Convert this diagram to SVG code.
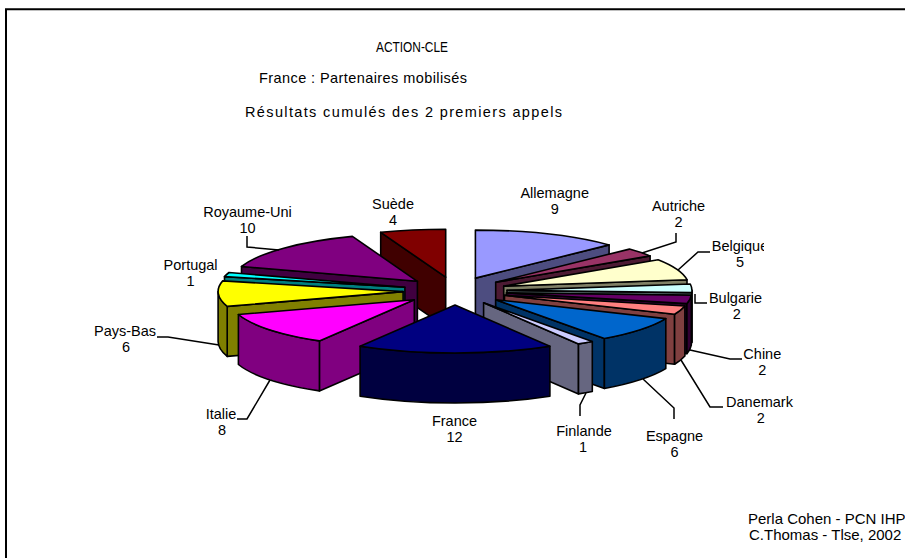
<svg xmlns="http://www.w3.org/2000/svg" width="905" height="558" viewBox="0 0 905 558">
<style>
text{font-family:"Liberation Sans",Arial,sans-serif;fill:#000}
.lbl{font-size:14.5px;text-anchor:middle}
.ttl{font-size:14.5px}
.ft{font-size:15px}
.s path{stroke:#000;stroke-width:1.6;stroke-linejoin:round}
.lead polyline{fill:none;stroke:#000;stroke-width:1.5}
</style>
<defs><clipPath id="clipR"><rect x="0" y="0" width="764" height="558"/></clipPath></defs>
<rect width="905" height="558" fill="#fff"/>
<path d="M6,558 L6,9.3 L905,9.3" fill="none" stroke="#000" stroke-width="2"/>
<g id="title">
<text class="ttl" x="376" y="52" textLength="72" lengthAdjust="spacingAndGlyphs">ACTION-CLE</text>
<text class="ttl" x="259" y="83" textLength="208">France : Partenaires mobilisés</text>
<text class="ttl" x="245" y="117" textLength="317">Résultats cumulés des 2 premiers appels</text>
</g>
<g id="suede" class="s">
<path fill="#400000" d="M445.7,277.2 L380.7,232.3 L380.7,282.3 L445.7,327.2 Z"/>
<path fill="#800000" d="M445.7,277.2 L380.7,232.3 A185,48 0 0 1 445.7,229.2 Z"/>
<text class="lbl" x="393" y="208.5">Suède</text><text class="lbl" x="393" y="224.5">4</text>
</g>
<g id="allemagne" class="s">
<path fill="#4D4D80" d="M475.4,278.1 L609.1,244.9 L609.1,294.9 L475.4,328.1 Z"/>
<path fill="#9999FF" d="M475.4,278.1 L475.4,230.1 A185,48 0 0 1 609.1,244.9 Z"/>
<text class="lbl" x="554.7" y="198">Allemagne</text><text class="lbl" x="554.7" y="214">9</text>
</g>
<g id="royaume-uni" class="s">
<path fill="#400040" d="M417.4,281.3 L241.5,266.5 L241.5,316.5 L417.4,331.3 Z"/>
<path fill="#800080" d="M417.4,281.3 L241.5,266.5 A185,48 0 0 1 352.4,236.4 Z"/>
<text class="lbl" x="247.5" y="217">Royaume-Uni</text><text class="lbl" x="247.5" y="233">10</text>
</g>
<g id="autriche" class="s">
<path fill="#4D1A33" d="M495.7,282.3 L650.1,255.9 L650.1,305.9 L495.7,332.3 Z"/>
<path fill="#993366" d="M495.7,282.3 L629.4,249.1 A185,48 0 0 1 650.1,255.9 Z"/>
<text class="lbl" x="678.5" y="210.5">Autriche</text><text class="lbl" x="678.5" y="226.5">2</text>
</g>
<g id="belgique" class="s">
<path fill="#808066" d="M503.7,286.1 L687,279.7 L687,329.7 L503.7,336.1 Z"/>
<path fill="#FFFFCC" d="M503.7,286.1 L658.1,259.7 A185,48 0 0 1 687,279.7 Z"/>
<text class="lbl" x="740" y="251" clip-path="url(#clipR)">Belgique</text><text class="lbl" x="740" y="267">5</text>
</g>
<g id="portugal" class="s">
<path fill="#008080" d="M404.9,287.3 L224.5,276.6 L224.5,326.6 L404.9,337.3 Z"/>
<path fill="#00FFFF" d="M404.9,287.3 L224.5,276.6 A185,48 0 0 1 229,272.5 Z"/>
<text class="lbl" x="190.6" y="270">Portugal</text><text class="lbl" x="190.6" y="286">1</text>
</g>
<g id="bulgarie" class="s">
<path fill="#668080" d="M507,290.4 L691.8,292.6 L691.8,342.6 L507,340.4 Z"/>
<path fill="#668080" d="M692,290.4 A185,48 0 0 1 691.8,292.6 L691.8,342.6 A185,48 0 0 0 692,340.4 Z"/>
<path fill="#CCFFFF" d="M507,290.4 L690.3,284 A185,48 0 0 1 691.8,292.6 Z"/>
<text class="lbl" x="735.5" y="302.5" clip-path="url(#clipR)">Bulgarie</text><text class="lbl" x="736.7" y="318.5">2</text>
</g>
<g id="pays-bas" class="s">
<path fill="#808000" d="M403.1,291.6 L227.2,306.4 L227.2,356.4 L403.1,341.6 Z"/>
<path fill="#808000" d="M227.2,306.4 A185,48 0 0 1 218.1,291.6 L218.1,341.6 A185,48 0 0 0 227.2,356.4 Z"/>
<path fill="#FFFF00" d="M403.1,291.6 L227.2,306.4 A185,48 0 0 1 222.7,280.9 Z"/>
<text class="lbl" x="125" y="336">Pays-Bas</text><text class="lbl" x="126" y="352">6</text>
</g>
<g id="chine" class="s">
<path fill="#330033" d="M506.5,292.9 L686.9,303.6 L686.9,353.6 L506.5,342.9 Z"/>
<path fill="#330033" d="M691.3,295.1 A185,48 0 0 1 686.9,303.6 L686.9,353.6 A185,48 0 0 0 691.3,345.1 Z"/>
<path fill="#660066" d="M506.5,292.9 L691.3,295.1 A185,48 0 0 1 686.9,303.6 Z"/>
<text class="lbl" x="762.3" y="358.5">Chine</text><text class="lbl" x="762.3" y="374.5">2</text>
</g>
<g id="danemark" class="s">
<path fill="#804040" d="M504.5,295.3 L674.6,314.2 L674.6,364.2 L504.5,345.3 Z"/>
<path fill="#804040" d="M684.9,306 A185,48 0 0 1 674.6,314.2 L674.6,364.2 A185,48 0 0 0 684.9,356 Z"/>
<path fill="#FF8080" d="M504.5,295.3 L684.9,306 A185,48 0 0 1 674.6,314.2 Z"/>
<text class="lbl" x="759.5" y="407">Danemark</text><text class="lbl" x="760.7" y="423">2</text>
</g>
<g id="espagne" class="s">
<path fill="#003366" d="M495.7,299.7 L604.4,338.5 L604.4,388.5 L495.7,349.7 Z"/>
<path fill="#003366" d="M665.8,318.6 A185,48 0 0 1 604.4,338.5 L604.4,388.5 A185,48 0 0 0 665.8,368.6 Z"/>
<path fill="#0066CC" d="M495.7,299.7 L665.8,318.6 A185,48 0 0 1 604.4,338.5 Z"/>
<text class="lbl" x="674.5" y="441">Espagne</text><text class="lbl" x="674.5" y="457">6</text>
</g>
<g id="italie" class="s">
<path fill="#800080" d="M414.3,299.7 L319.4,340.9 L319.4,390.9 L414.3,349.7 Z"/>
<path fill="#800080" d="M319.4,340.9 A185,48 0 0 1 238.4,314.5 L238.4,364.5 A185,48 0 0 0 319.4,390.9 Z"/>
<path fill="#FF00FF" d="M414.3,299.7 L319.4,340.9 A185,48 0 0 1 238.4,314.5 Z"/>
<text class="lbl" x="221" y="418.5">Italie</text><text class="lbl" x="222" y="434.5">8</text>
</g>
<g id="finlande" class="s">
<path fill="#666680" d="M483.6,302.7 L578.5,343.9 L578.5,393.9 L483.6,352.7 Z"/>
<path fill="#666680" d="M592.3,341.5 A185,48 0 0 1 578.5,343.9 L578.5,393.9 A185,48 0 0 0 592.3,391.5 Z"/>
<path fill="#CCCCFF" d="M483.6,302.7 L592.3,341.5 A185,48 0 0 1 578.5,343.9 Z"/>
<text class="lbl" x="584" y="435.5">Finlande</text><text class="lbl" x="583" y="451.5">1</text>
</g>
<g id="france" class="s">
<path fill="#000040" d="M549.9,346.2 A185,48 0 0 1 360.1,346.2 L360.1,396.2 A185,48 0 0 0 549.9,396.2 Z"/>
<path fill="#000080" d="M455,305 L549.9,346.2 A185,48 0 0 1 360.1,346.2 Z"/>
<text class="lbl" x="454.5" y="426">France</text><text class="lbl" x="454.5" y="442">12</text>
</g>
<g id="connectors" class="lead">
<polyline points="247,236 247,247 279,250"/>
<polyline points="676,233 676,242 642,253"/>
<polyline points="710,252 698,252 678,270"/>
<polyline points="707,303 695,303 695,294"/>
<polyline points="742,359 730,359 690,350"/>
<polyline points="723,407 710,407 681,360"/>
<polyline points="674,419 674,408 643,379"/>
<polyline points="580,416 580,405 586,393"/>
<polyline points="237,419 247,419 270,380"/>
<polyline points="157,337 168,337 219,345"/>
</g>
<g id="footer">
<text class="ft" x="748" y="523.5">Perla Cohen - PCN IHP</text>
<text class="ft" x="749" y="539.5">C.Thomas - Tlse, 2002</text>
</g>
</svg>
